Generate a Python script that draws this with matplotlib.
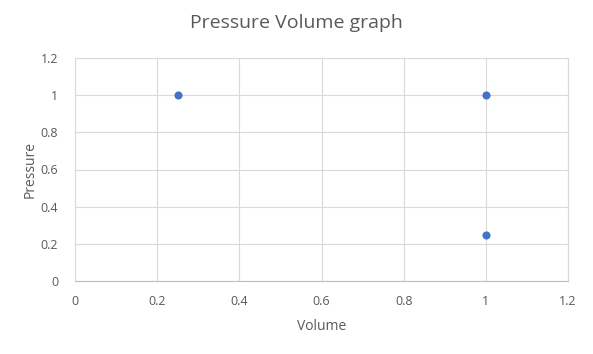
import matplotlib.pyplot as plt

volume = [0.25, 1, 1]
pressure = [1, 1, 0.25]
x_ticks = [0, 0.2, 0.4, 0.6, 0.8, 1, 1.2]
y_ticks = [0, 0.2, 0.4, 0.6, 0.8, 1, 1.2]
tick_labels = ['0', '0.2', '0.4', '0.6', '0.8', '1', '1.2']

plt.rcParams['font.family'] = ['Open Sans', 'DejaVu Sans']
grey = '#595959'

fig = plt.figure(figsize=(5.93, 3.54), dpi=100)
ax = fig.add_axes([75/593, 73/354, 493/593, 223/354])

ax.scatter(volume, pressure, s=34, color='#4472C4', zorder=3, linewidths=0)

ax.set_xlim(0, 1.2)
ax.set_ylim(0, 1.2)
ax.set_xticks(x_ticks)
ax.set_yticks(y_ticks)
ax.set_xticklabels(tick_labels)
ax.set_yticklabels(tick_labels)
ax.grid(True, color='#d9d9d9', linewidth=0.8)
ax.set_axisbelow(True)
for s in ax.spines.values():
    s.set_color('#d9d9d9')
    s.set_linewidth(0.8)
ax.spines['bottom'].set_color('#bfbfbf')
ax.tick_params(length=0, labelsize=9, labelcolor=grey, pad=10)
ax.tick_params(axis='y', pad=12)

ax.set_xlabel('Volume', fontsize=10, color=grey, labelpad=8)
ax.set_ylabel('Pressure', fontsize=10, color=grey, labelpad=2)
fig.text(296/593, 1 - 23/354, 'Pressure Volume graph', fontsize=14, color=grey,
         ha='center', va='center')

fig.savefig('out.png', dpi=100)
